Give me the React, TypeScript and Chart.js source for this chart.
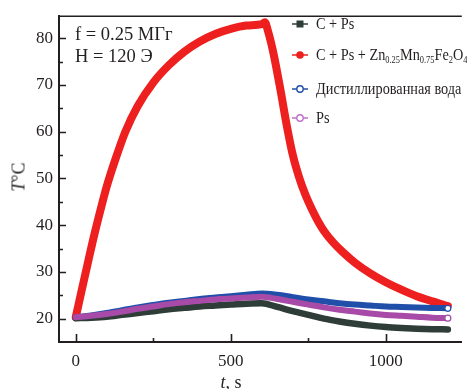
import React, { useEffect, useRef } from "react";
import { Chart, registerables } from "chart.js";
Chart.register(...registerables);

// ---- data ----
const redTime = [0, 20, 40, 60, 80, 100, 130, 160, 200, 250, 300, 350, 400, 450, 500, 550, 600, 610, 620, 630, 640, 660, 680, 700, 720, 740, 760, 780, 800, 830, 860, 900, 950, 1000, 1050, 1100, 1150, 1200];
const redTemp = [20.3, 26.3, 32.2, 38.0, 43.3, 48.3, 54.5, 60.0, 65.5, 70.5, 74.2, 77.1, 79.3, 80.9, 82.0, 82.7, 83.0, 83.4, 81.5, 79.0, 76.0, 69.0, 61.5, 55.0, 50.3, 46.6, 43.6, 41.0, 38.8, 36.3, 34.3, 32.0, 29.7, 27.8, 26.2, 24.8, 23.7, 22.7];

const lowTime = [0, 50, 100, 150, 200, 250, 300, 350, 400, 450, 500, 550, 600, 650, 700, 750, 800, 850, 900, 950, 1000, 1050, 1100, 1150, 1200];
const cpsTemp = [20.1, 20.2, 20.4, 20.8, 21.2, 21.6, 22.0, 22.3, 22.6, 22.8, 23.0, 23.2, 23.3, 22.5, 21.6, 20.8, 20.0, 19.4, 18.9, 18.5, 18.2, 18.0, 17.85, 17.75, 17.7];
const waterTemp = [20.3, 20.7, 21.2, 21.8, 22.4, 22.9, 23.4, 23.8, 24.2, 24.5, 24.8, 25.1, 25.4, 25.1, 24.6, 24.1, 23.7, 23.3, 23.0, 22.8, 22.6, 22.5, 22.4, 22.3, 22.2];
const psTemp = [20.3, 20.6, 21.0, 21.5, 22.1, 22.6, 23.1, 23.5, 23.8, 24.1, 24.3, 24.5, 24.7, 24.2, 23.6, 23.0, 22.4, 21.9, 21.5, 21.1, 20.8, 20.6, 20.4, 20.2, 20.1];

const xTicks = [0, 500, 1000];
const xMinor = [250, 750];
const yTicks = [20, 30, 40, 50, 60, 70, 80];
const yMinor = [25, 35, 45, 55, 65, 75];

const INK = "#231f20";
const RED = "#ee1f1f";
const DARK = "#2f3d38";
const BLUE = "#1f4fa8";
const MAGENTA = "#a84aa8";
const FONT = "'Liberation Serif', 'Times New Roman', serif";

const toXY = (xs: number[], ys: number[]) => xs.map((x, i) => ({ x, y: ys[i] }));

const tickPlugin = {
  id: "insideTicks",
  afterDraw(chart: any) {
    const { ctx, chartArea, scales } = chart;
    const xs = scales.x;
    const ys = scales.y;
    ctx.save();
    ctx.strokeStyle = INK;
    ctx.lineWidth = 1.6;
    ctx.beginPath();
    ctx.moveTo(chartArea.left, chartArea.top);
    ctx.lineTo(chartArea.right, chartArea.top);
    ctx.stroke();
    ctx.beginPath();
    for (const v of yTicks) {
      const p = Math.round(ys.getPixelForValue(v)) + 0.5;
      ctx.moveTo(chartArea.left, p);
      ctx.lineTo(chartArea.left + 7, p);
    }
    for (const v of yMinor) {
      const p = Math.round(ys.getPixelForValue(v)) + 0.5;
      ctx.moveTo(chartArea.left, p);
      ctx.lineTo(chartArea.left + 4, p);
    }
    for (const v of xTicks) {
      const p = Math.round(xs.getPixelForValue(v)) + 0.5;
      ctx.moveTo(p, chartArea.bottom);
      ctx.lineTo(p, chartArea.bottom - 8);
    }
    for (const v of xMinor) {
      const p = Math.round(xs.getPixelForValue(v)) + 0.5;
      ctx.moveTo(p, chartArea.bottom);
      ctx.lineTo(p, chartArea.bottom - 4);
    }
    ctx.stroke();
    ctx.restore();
  },
};

function LegendRow({ top, color, marker, children }: any) {
  return (
    <div style={{ position: "absolute", left: 290, top: top - 11, height: 22, display: "flex", alignItems: "center", whiteSpace: "nowrap", fontSize: 17 }}>
      <svg width={20} height={14} style={{ display: "block" }}>
        <line x1={2} y1={7} x2={18} y2={7} stroke={color} strokeWidth={1.5} />
        {marker === "square" && <rect x={6.5} y={3.5} width={7} height={7} fill={color} />}
        {marker === "dot" && <circle cx={10} cy={7} r={3.8} fill={color} />}
        {marker === "open" && <circle cx={10} cy={7} r={3.2} fill="#fff" stroke={color} strokeWidth={1.4} />}
      </svg>
      <span style={{ marginLeft: 6, display: "inline-block", transform: "scaleX(0.84)", transformOrigin: "left center" }}>{children}</span>
    </div>
  );
}

export default function App() {
  const ref = useRef<HTMLCanvasElement>(null);
  useEffect(() => {
    document.body.style.margin = "0";
    const lastIdx = lowTime.length - 1;
    const endPoint = (c: any) => (c.dataIndex === lastIdx ? 3 : 0);
    const common = {
      borderCapStyle: "round",
      borderJoinStyle: "round",
      cubicInterpolationMode: "monotone",
      fill: false,
    };
    const chart = new Chart(ref.current!, {
      type: "line",
      data: {
        datasets: [
          { ...common, label: "C + Ps", data: toXY(lowTime, cpsTemp), borderColor: DARK, backgroundColor: DARK, borderWidth: 6.5, pointRadius: 0, order: 3 },
          { ...common, label: "C + Ps + Zn0.25Mn0.75Fe2O4", data: toXY(redTime, redTemp), borderColor: RED, backgroundColor: RED, borderWidth: 8, pointRadius: 0, order: 4 },
          { ...common, label: "Дистиллированная вода", data: toXY(lowTime, waterTemp), borderColor: BLUE, backgroundColor: "#fff", borderWidth: 6, pointRadius: endPoint, pointBackgroundColor: "#fff", pointBorderColor: BLUE, pointBorderWidth: 1.2, order: 2 },
          { ...common, label: "Ps", data: toXY(lowTime, psTemp), borderColor: MAGENTA, backgroundColor: "#fff", borderWidth: 6, pointRadius: endPoint, pointBackgroundColor: "#fff", pointBorderColor: MAGENTA, pointBorderWidth: 1.2, order: 1 },
        ] as any,
      },
      options: {
        animation: false,
        responsive: false,
        maintainAspectRatio: false,
        layout: { padding: { top: 12, right: 0, left: 0, bottom: 0 } },
        plugins: { legend: { display: false }, tooltip: { enabled: false } },
        scales: {
          x: {
            type: "linear",
            min: -54,
            max: 1245,
            afterBuildTicks: (s: any) => { s.ticks = xTicks.map((v) => ({ value: v })); },
            afterFit: (s: any) => { s.height = 47; },
            grid: { display: false, drawTicks: false },
            border: { display: true, color: INK, width: 2 },
            ticks: { color: INK, font: { family: FONT, size: 17 }, padding: 9, maxRotation: 0, callback: (v: any) => String(v) },
          },
          y: {
            type: "linear",
            min: 15,
            max: 84.7,
            afterBuildTicks: (s: any) => { s.ticks = yTicks.map((v) => ({ value: v })); },
            afterFit: (s: any) => { s.width = 59; },
            grid: { display: false, drawTicks: false },
            border: { display: true, color: INK, width: 2 },
            ticks: { color: INK, font: { family: FONT, size: 17 }, padding: 6, callback: (v: any) => String(v) },
          },
        },
      } as any,
      plugins: [tickPlugin],
    });
    return () => chart.destroy();
  }, []);

  const sub = { fontSize: 10, verticalAlign: "-3px", lineHeight: 0 } as any;
  return (
    <div style={{ position: "relative", width: 467, height: 389, overflow: "hidden", background: "#fff", fontFamily: FONT, color: INK }}>
      <canvas ref={ref} width={467} height={389} style={{ display: "block" }} />
      <div style={{ position: "absolute", left: 75, top: 23, fontSize: 18.5, lineHeight: "22px", whiteSpace: "nowrap" }}>
        <div>f = 0.25 МГг</div>
        <div>H = 120 Э</div>
      </div>
      <LegendRow top={24} color={DARK} marker="square">C + Ps</LegendRow>
      <LegendRow top={55} color={RED} marker="dot">
        C + Ps + Zn<span style={sub}>0.25</span>Mn<span style={sub}>0.75</span>Fe<span style={sub}>2</span>O<span style={sub}>4</span>
      </LegendRow>
      <LegendRow top={89} color={BLUE} marker="open">Дистиллированная вода</LegendRow>
      <LegendRow top={118} color="#c070c8" marker="open">Ps</LegendRow>
      <div style={{ position: "absolute", left: 19, top: 177, transform: "translate(-50%, -50%) rotate(-90deg)", fontSize: 18, whiteSpace: "nowrap" }}>
        <i>T</i>°C
      </div>
      <div style={{ position: "absolute", left: 231, top: 373, transform: "translateX(-50%)", fontSize: 18, lineHeight: "18px", whiteSpace: "nowrap" }}>
        <i>t</i>, s
      </div>
    </div>
  );
}
